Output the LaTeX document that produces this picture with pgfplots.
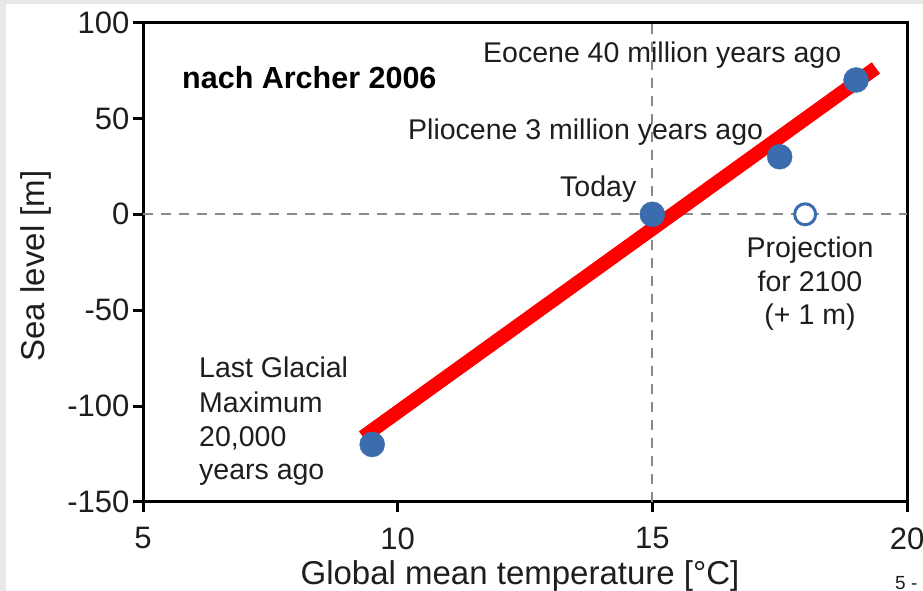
\documentclass[border=0pt]{standalone}
\usepackage{fontspec}
\setmainfont{Liberation Sans}
\usepackage{pgfplots}
\pgfplotsset{compat=1.18}

\definecolor{dotblue}{HTML}{3A6CAE}
\definecolor{framegray}{HTML}{E8E8E8}
\definecolor{txt}{HTML}{1E1E1E}
\definecolor{guide}{HTML}{8A8A8A}

\newcommand{\annot}{\fontsize{28.5}{34}\selectfont\color{txt}}

\begin{document}
\begin{tikzpicture}[x=1pt,y=1pt]
\useasboundingbox (0pt,0pt) rectangle (923pt,591pt);
% slide frame
\fill[framegray] (0pt,0pt) rectangle (923pt,591pt);
\fill[white] (6pt,0pt) rectangle (923pt,587pt);

\begin{axis}[
  at={(143pt,89pt)}, anchor=south west,
  scale only axis, width=764pt, height=479.5pt,
  xmin=5, xmax=20, ymin=-150, ymax=100,
  xtick={5,10,15,20}, ytick={-150,-100,-50,0,50,100},
  xtick pos=bottom, ytick pos=left,
  tick align=outside, major tick length=10pt,
  axis line style={line width=3pt, black},
  every tick/.style={line width=3pt, black},
  /pgf/number format/assume math mode=true,
  ticklabel style={font=\fontsize{31}{36}\selectfont, text=txt},
  xticklabel style={yshift=-12pt},
  clip=false,
]
% reference lines for today's temperature and sea level
\addplot[guide, line width=2pt, dash pattern=on 10pt off 8pt] coordinates {(5,0) (20,0)};
\addplot[guide, line width=2pt, dash pattern=on 10pt off 8pt] coordinates {(15,-150) (15,100)};

% reconstructed climate states
\addplot[only marks, mark=*, mark size=12.5pt, color=dotblue] coordinates {
  (9.5,-120) (15,0) (17.5,30) (19,70)
};
% projection for 2100
\addplot[only marks, mark=*, mark size=10.5pt, draw=dotblue, fill=white, line width=3pt] coordinates {
  (18,0)
};

% linear trend
\addplot[red, line width=14pt] coordinates {(9.32,-116.1) (19.39,76.3)};
\end{axis}

% annotations
\node[anchor=base west, inner sep=0] at (182pt,502pt) {\fontsize{30.5}{36}\selectfont\bfseries nach Archer 2006};
\node[anchor=base west, inner sep=0] at (483pt,528pt) {\annot Eocene 40 million years ago};
\node[anchor=base west, inner sep=0] at (408pt,451pt) {\annot Pliocene 3 million years ago};
\node[anchor=base west, inner sep=0] at (560pt,394pt) {\annot Today};
\node[anchor=base, inner sep=0] at (810pt,333pt) {\annot Projection};
\node[anchor=base, inner sep=0] at (810pt,299pt) {\annot for 2100};
\node[anchor=base, inner sep=0] at (810pt,266pt) {\annot (+ 1 m)};
\node[anchor=base west, inner sep=0] at (199pt,213pt) {\annot Last Glacial};
\node[anchor=base west, inner sep=0] at (199pt,178pt) {\annot Maximum};
\node[anchor=base west, inner sep=0] at (199pt,144pt) {\annot 20,000};
\node[anchor=base west, inner sep=0] at (199pt,111pt) {\annot years ago};

% axis labels
\node[anchor=base, inner sep=0, rotate=90] at (44pt,325pt) {\fontsize{33}{38}\selectfont\color{txt}Sea level [m]};
\node[anchor=base, inner sep=0] at (520pt,6pt) {\fontsize{33}{38}\selectfont\color{txt}Global mean temperature [°C]};

% page number
\node[anchor=north west, inner sep=0] at (895pt,15pt) {\fontsize{19}{22}\selectfont\color{txt}5 -};
\end{tikzpicture}
\end{document}
